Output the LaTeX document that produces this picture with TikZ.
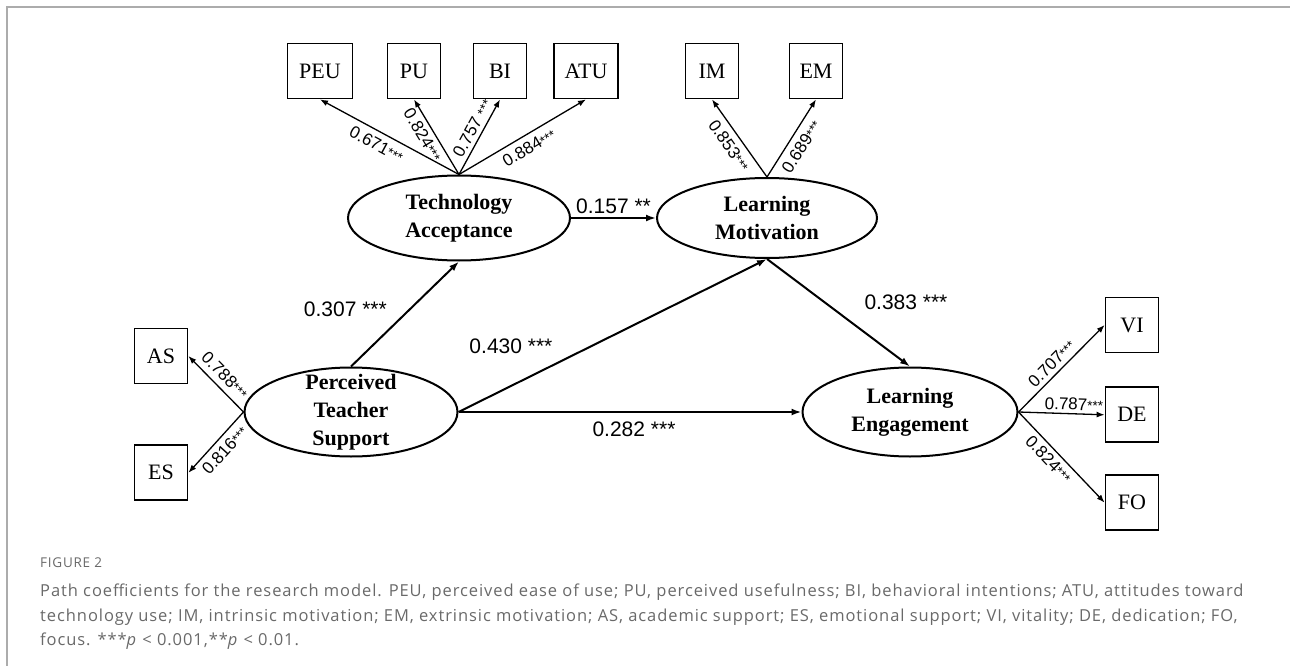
\documentclass[tikz,border=0pt]{standalone}
\usepackage{fontspec}
\setmainfont{Liberation Serif}
\setsansfont{Liberation Sans}
\newfontfamily\capfont[LetterSpace=5.6]{Open Sans}
\usetikzlibrary{positioning,arrows.meta,shapes.geometric}
\definecolor{capgray}{RGB}{105,105,105}
\definecolor{rulegray}{RGB}{172,172,172}
\newcommand{\sig}[1]{{\fontsize{13.5}{13.5}\selectfont #1}}

\begin{document}
\begin{tikzpicture}[x=1pt,y=-1pt,>={Latex[length=10pt,width=7pt]},
  latent/.style={draw,ellipse,line width=2pt,inner sep=0pt,
    label={[lvname]center:#1}},
  lvname/.style={font=\fontsize{22}{28}\selectfont\bfseries,align=center},
  obs/.style={draw,line width=1.8pt,minimum width=53pt,minimum height=55pt,
    inner sep=0pt,font=\fontsize{22}{24}\selectfont},
  mainarr/.style={->,line width=2pt},
  fanarr/.style={-{Latex[length=8pt,width=6pt]},line width=1.3pt},
  coef/.style={font=\sffamily\fontsize{21}{21}\selectfont},
  load/.style={font=\sffamily\fontsize{17}{17}\selectfont,sloped,inner sep=3pt}]
  \useasboundingbox (0,0) rectangle (1290,666);
  \draw[rulegray,line width=1.5pt] (7,666) -- (7,7) -- (1290,7);

  % latent variables
  \node[latent={Technology\\Acceptance},minimum width=222pt,minimum height=85pt] (ta) at (459,218) {};
  \node[latent={Learning\\Motivation},minimum width=220pt,minimum height=80pt] (lm) at (767,218) {};
  \node[latent={Perceived\\Teacher\\Support},minimum width=213pt,minimum height=89pt] (pts) at (351,412) {};
  \node[latent={Learning\\Engagement},minimum width=215pt,minimum height=89pt] (le) at (910,412) {};

  % indicators
  \node[obs,minimum width=65pt] (peu) at (320,71) {PEU};
  \node[obs] (pu) at (414,71) {PU};
  \node[obs] (bi) at (500,71) {BI};
  \node[obs,minimum width=64pt] (atu) at (586,71) {ATU};
  \node[obs] (im) at (712,71) {IM};
  \node[obs] (em) at (816,71) {EM};
  \node[obs] (as) at (161,356) {AS};
  \node[obs,below=60pt of as] (es) {ES};
  \node[obs] (vi) at (1132,325) {VI};
  \node[obs,below=33pt of vi] (de) {DE};
  \node[obs,below=31pt of de] (fo) {FO};

  \draw[fanarr] (ta.north) -- node[load,below=3pt,pos=.55]{0.671\sig{***}} (peu.south);
  \draw[fanarr] (ta.north) -- node[load,below=1pt,pos=.6]{0.824\sig{***}} (pu.south);
  \draw[fanarr] (ta.north) -- node[load,above=1pt,pos=.55]{0.757 \sig{***}} (bi.south);
  \draw[fanarr] (ta.north) -- node[load,below=3pt,pos=.5]{0.884\sig{***}} (atu.south);
  \draw[fanarr] (lm.north) -- node[load,below=3pt,pos=.5]{0.853\sig{***}} (im.south);
  \draw[fanarr] (lm.north) -- node[load,below=3pt,pos=.48]{0.689\sig{***}} (em.south);
  \draw[fanarr] (pts.west) -- node[load,above=3pt,pos=.5]{0.788\sig{***}} (as.east);
  \draw[fanarr] (pts.west) -- node[load,below=2pt,pos=.5]{0.816\sig{***}} (es.east);
  \draw[fanarr] (le.east) -- node[load,above=1pt,pos=.47]{0.707\sig{***}} (vi.west);
  \draw[fanarr] (le.east) -- node[load,above,pos=.64]{0.787\sig{***}} (de.west);
  \draw[fanarr] (le.east) -- node[load,below=1pt,pos=.44]{0.824\sig{***}} (fo.west);

  % structural paths
  \draw[mainarr] (ta.east) -- node[coef,above]{0.157 **} (lm.west);
  \draw[mainarr] (pts.north) -- node[coef,pos=.52,left=16pt,yshift=3pt]{0.307 ***} (ta.south);
  \draw[mainarr] (pts.east) -- node[coef,pos=.17,above=28pt]{0.430 ***} (lm.south);
  \draw[mainarr] (lm.south) -- node[coef,pos=.4,right=36pt]{0.383 ***} (le.north);
  \draw[mainarr] (pts.east) -- node[coef,below=5pt,xshift=4pt]{0.282 ***} (le.west);

  % caption
  \node[anchor=base west,inner sep=0pt,text=capgray,font=\capfont\fontsize{13.5}{14}\selectfont] (fig) at (40,567) {FIGURE 2};
  \node[anchor=north west,inner sep=0pt,text=capgray,align=left,
    font=\capfont\fontsize{16.5}{24.5}\selectfont] (cap) at (40,584)
    {Path coefficients for the research model. PEU, perceived ease of use; PU, perceived usefulness; BI, behavioral intentions; ATU, attitudes toward\\
     technology use; IM, intrinsic motivation; EM, extrinsic motivation; AS, academic support; ES, emotional support; VI, vitality; DE, dedication; FO,\\
     focus. ***\textit{p} < 0.001,**\textit{p} < 0.01.};
\end{tikzpicture}
\end{document}
